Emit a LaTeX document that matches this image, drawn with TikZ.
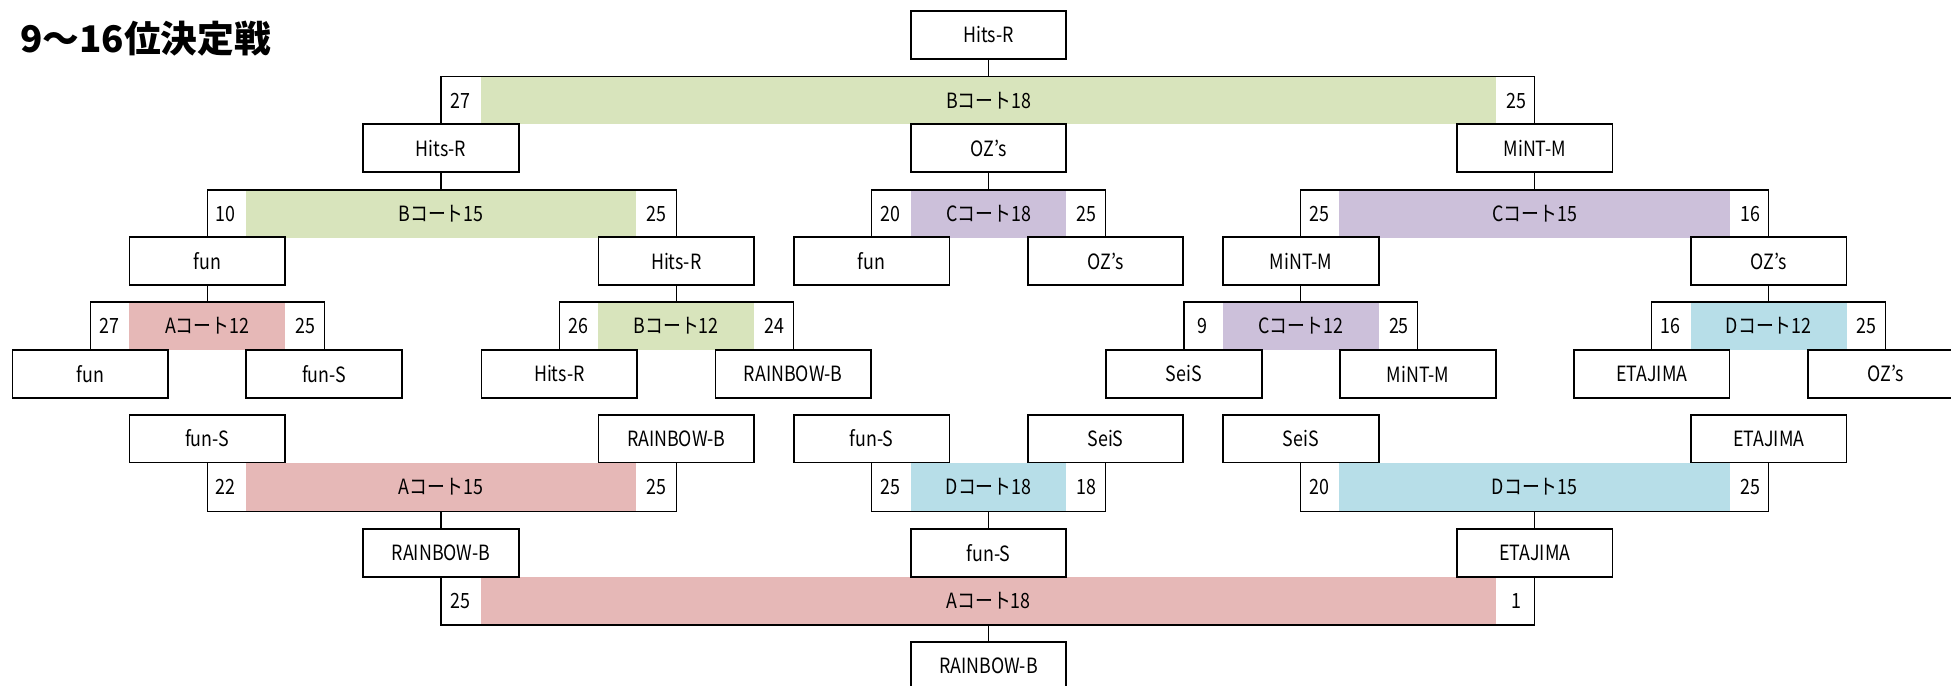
\documentclass[tikz,border=0pt]{standalone}
\usepackage{fontspec}
\setmainfont{Noto Sans CJK JP}[FakeStretch=0.85]
\newfontfamily\titlefont{Noto Sans CJK JP}
\usetikzlibrary{positioning}
\definecolor{courtA}{HTML}{E6B8B7}
\definecolor{courtB}{HTML}{D8E4BC}
\definecolor{courtC}{HTML}{CCC0DA}
\definecolor{courtD}{HTML}{B7DEE8}
\tikzset{
    team/.style={draw, line width=1pt, fill=white, minimum width=3.125cm, minimum height=0.9625cm, inner sep=0pt},
    court/.style={minimum height=0.95cm, inner sep=0pt},
    score/.style={fill=white, minimum width=0.7875cm, minimum height=0.95cm, inner sep=0pt},
    wire/.style={line width=0.7pt},
}
\def\courtbar[#1](#2)#3#4#5#6#7% Syntax: [colour] (centre) {name} {fill width} {label} {left score} {right score}
    { \node[court, fill=#1, minimum width=#4] (#3) at (#2) {#5};
      \node[score, left=0pt of #3] (#3l) {#6};
      \node[score, right=0pt of #3] (#3r) {#7}; }

\begin{document}
\begin{tikzpicture}[x=0.025cm, y=-0.025cm, font=\fontsize{12}{14}\selectfont]
		\clip (0,0) rectangle (1568,551);
		\node[anchor=base west, inner sep=0pt, font=\titlefont\fontsize{21}{25}\selectfont\bfseries] (title) at (16,42) {9〜16位決定戦};
		% upper bracket
		\courtbar[courtB](794.5,81){bB18}{20.4cm}{Bコート18}{27}{25}
		\courtbar[courtB](354.5,172){bB15}{7.85cm}{Bコート15}{10}{25}
		\courtbar[courtC](794.5,172){bC18}{3.125cm}{Cコート18}{20}{25}
		\courtbar[courtC](1233.5,172){bC15}{7.85cm}{Cコート15}{25}{16}
		\courtbar[courtA](166.5,262){bA12}{3.125cm}{Aコート12}{27}{25}
		\courtbar[courtB](543.5,262){bB12}{3.125cm}{Bコート12}{26}{24}
		\courtbar[courtC](1045.5,262){bC12}{3.125cm}{Cコート12}{9}{25}
		\courtbar[courtD](1421.5,262){bD12}{3.125cm}{Dコート12}{16}{25}
		\node[team] (t0) at (794.5,28) {Hits-R};
		\node[team] (t1a) at (354.5,119) {Hits-R};
		\node[team] (t1b) at (794.5,119) {OZ's};
		\node[team] (t1c) at (1233.5,119) {MiNT-M};
		\node[team] (t2a) at (166.5,210) {fun};
		\node[team] (t2b) at (543.5,210) {Hits-R};
		\node[team] (t2c) at (700.5,210) {fun};
		\node[team] (t2d) at (888.5,210) {OZ's};
		\node[team] (t2e) at (1045.5,210) {MiNT-M};
		\node[team] (t2f) at (1421.5,210) {OZ's};
		\node[team] (t3a) at (72.5,300.5) {fun};
		\node[team] (t3b) at (260.5,300.5) {fun-S};
		\node[team] (t3c) at (449.5,300.5) {Hits-R};
		\node[team] (t3d) at (637.5,300.5) {RAINBOW-B};
		\node[team] (t3e) at (951.5,300.5) {SeiS};
		\node[team] (t3f) at (1139.5,300.5) {MiNT-M};
		\node[team] (t3g) at (1327.5,300.5) {ETAJIMA};
		\node[team] (t3h) at (1515.5,300.5) {OZ's};
		\foreach \l/\m/\r/\w in {t1a/bB18/t1c/t0, t2a/bB15/t2b/t1a, t2c/bC18/t2d/t1b, t2e/bC15/t2f/t1c,
				t3a/bA12/t3b/t2a, t3c/bB12/t3d/t2b, t3e/bC12/t3f/t2e, t3g/bD12/t3h/t2f}
			\draw[wire] (\l.north) |- (\m.north) -| (\r.north) (\m.north) -- (\w.south);
		% lower bracket
		\courtbar[courtA](354.5,391.5){bA15}{7.85cm}{Aコート15}{22}{25}
		\courtbar[courtD](794.5,391.5){bD18}{3.125cm}{Dコート18}{25}{18}
		\courtbar[courtD](1233.5,391.5){bD15}{7.85cm}{Dコート15}{20}{25}
		\courtbar[courtA](794.5,483){bA18}{20.4cm}{Aコート18}{25}{1}
		\node[team] (t4a) at (166.5,352.5) {fun-S};
		\node[team] (t4b) at (543.5,352.5) {RAINBOW-B};
		\node[team] (t4c) at (700.5,352.5) {fun-S};
		\node[team] (t4d) at (888.5,352.5) {SeiS};
		\node[team] (t4e) at (1045.5,352.5) {SeiS};
		\node[team] (t4f) at (1421.5,352.5) {ETAJIMA};
		\node[team] (t5a) at (354.5,444.5) {RAINBOW-B};
		\node[team] (t5b) at (794.5,444.5) {fun-S};
		\node[team] (t5c) at (1233.5,444.5) {ETAJIMA};
		\node[team] (t6) at (794.5,535) {RAINBOW-B};
		\foreach \l/\m/\r/\w in {t4a/bA15/t4b/t5a, t4c/bD18/t4d/t5b, t4e/bD15/t4f/t5c, t5a/bA18/t5c/t6}
			\draw[wire] (\l.south) |- (\m.south) -| (\r.south) (\m.south) -- (\w.north);
	\end{tikzpicture}
\end{document}
